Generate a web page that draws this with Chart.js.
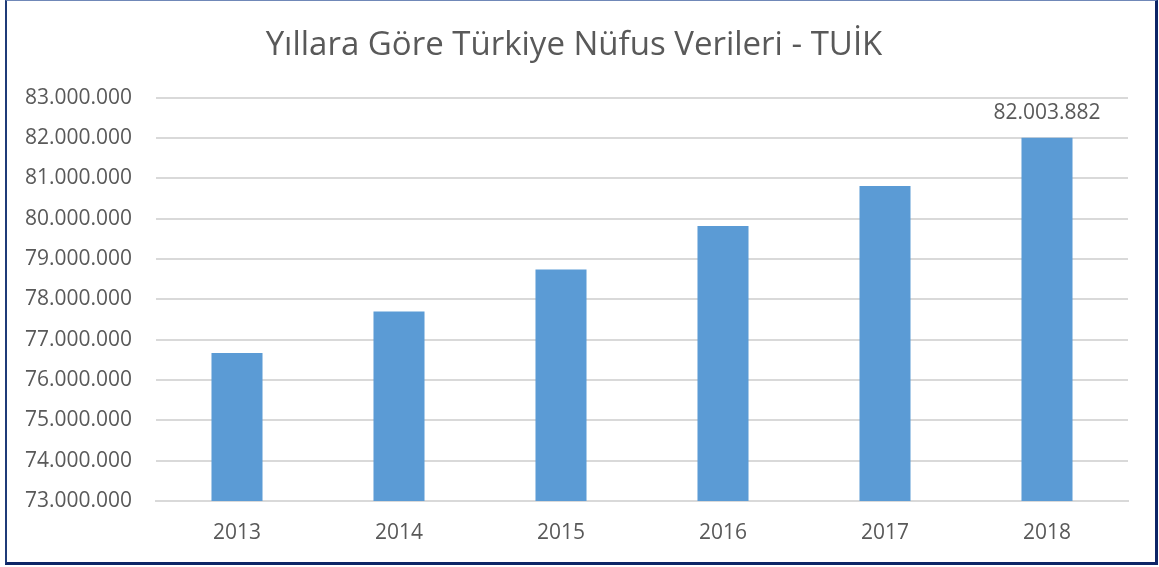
<!DOCTYPE html>
<html lang="tr">
<head>
<meta charset="utf-8">
<title>Yıllara Göre Türkiye Nüfus Verileri - TUİK</title>
<script src="https://cdn.jsdelivr.net/npm/chart.js@4/dist/chart.umd.min.js"></script>
<style>
  html, body { margin: 0; padding: 0; background: #ffffff; }
  .wrap { position: relative; width: 1159px; height: 567px; }
  #nufus-chart { position: absolute; left: 0; top: 0; }
  .frame {
    position: absolute;
    left: 5px;
    top: 0;
    width: 1148px;
    height: 561px;
    border-left: 2px solid #1f3b78;
    border-top: 1px solid #7088b8;
    border-right: 3px solid #0d2566;
    border-bottom: 3px solid #0d2566;
    pointer-events: none;
  }
</style>
</head>
<body>
<div class="wrap">
  <canvas id="nufus-chart" width="1159" height="567"></canvas>
  <div class="frame"></div>
</div>
<script>
  const chartTitle = "Yıllara Göre Türkiye Nüfus Verileri - TUİK";
  const years = ["2013", "2014", "2015", "2016", "2017", "2018"];
  const population = [76667864, 77695904, 78741053, 79814871, 80810525, 82003882];
  const labeledYears = ["2018"];
  const yMin = 73000000;
  const yMax = 83000000;
  const yStep = 1000000;

  const textColor = "#595959";
  const fontFamily = "'Open Sans', 'DejaVu Sans', sans-serif";

  function formatTr(value) {
    return String(Math.round(value)).replace(/\B(?=(\d{3})+(?!\d))/g, ".");
  }

  const valueLabelPlugin = {
    id: "valueLabel",
    afterDatasetsDraw: function (chart) {
      const meta = chart.getDatasetMeta(0);
      const ctx = chart.ctx;
      ctx.save();
      ctx.font = "21px " + fontFamily;
      ctx.fillStyle = textColor;
      ctx.textAlign = "center";
      ctx.textBaseline = "middle";
      meta.data.forEach(function (bar, i) {
        if (labeledYears.indexOf(years[i]) === -1) {
          return;
        }
        ctx.fillText(formatTr(population[i]), bar.x, bar.y - 25);
      });
      ctx.restore();
    },
  };

  new Chart(document.getElementById("nufus-chart"), {
    type: "bar",
    data: {
      labels: years,
      datasets: [
        {
          data: population,
          backgroundColor: "#5b9bd5",
          borderWidth: 0,
          categoryPercentage: 1,
          barPercentage: 0.315,
        },
      ],
    },
    options: {
      responsive: false,
      animation: false,
      layout: { padding: { left: 20, right: 31, top: 0, bottom: 0 } },
      plugins: {
        legend: { display: false },
        tooltip: { enabled: false },
        title: {
          display: true,
          text: chartTitle,
          color: textColor,
          font: { family: fontFamily, size: 33, weight: "normal", lineHeight: 1.2 },
          padding: { top: 26, bottom: 32 },
        },
      },
      scales: {
        x: {
          grid: { display: false, drawTicks: false },
          border: { display: true, color: "#d9d9d9", width: 2 },
          ticks: {
            color: textColor,
            font: { family: fontFamily, size: 21 },
            padding: 19,
          },
          afterFit: function (scale) {
            scale.height = 66;
          },
        },
        y: {
          min: yMin,
          max: yMax,
          grid: { color: "#d9d9d9", lineWidth: 2, drawTicks: false },
          border: { display: false },
          ticks: {
            stepSize: yStep,
            color: textColor,
            font: { family: fontFamily, size: 21 },
            padding: 24,
            callback: function (value) {
              return formatTr(value);
            },
          },
          afterFit: function (scale) {
            scale.width = 136;
          },
        },
      },
    },
    plugins: [valueLabelPlugin],
  });
</script>
</body>
</html>
